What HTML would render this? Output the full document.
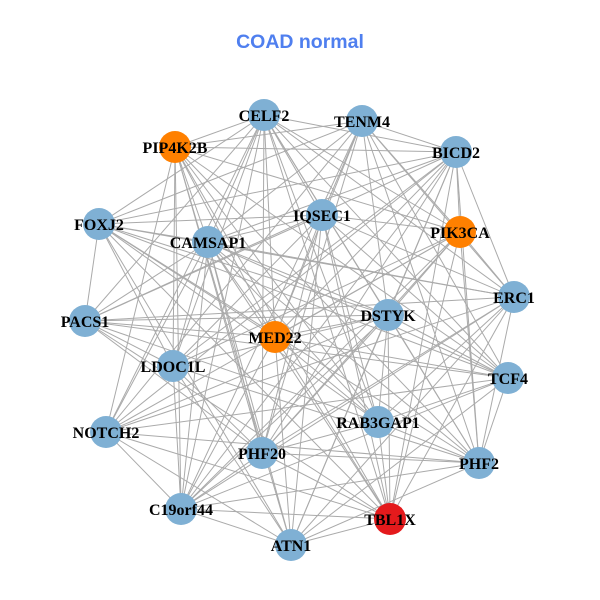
<!DOCTYPE html>
<html><head><meta charset="utf-8"><style>
html,body{margin:0;padding:0;background:#fff;}
svg{display:block;}
text{font-family:"Liberation Serif",serif;font-weight:bold;font-size:16px;fill:#000;}
</style></head><body>
<svg id="g" width="600" height="600" viewBox="0 0 600 600" xmlns="http://www.w3.org/2000/svg">
<rect width="600" height="600" fill="#fff"/>
<text x="300" y="48" text-anchor="middle" style="font-family:'Liberation Sans',sans-serif;font-size:19.5px;fill:#4f7fef;">COAD normal</text>
<g id="edges" stroke="#aaaaaa" stroke-width="1" fill="none"></g>
<g id="nodes">
<circle cx="264" cy="115" r="16" fill="#7fb0d4"/>
<circle cx="362" cy="121" r="16" fill="#7fb0d4"/>
<circle cx="175" cy="147" r="16" fill="#ff8000"/>
<circle cx="456" cy="152" r="16" fill="#7fb0d4"/>
<circle cx="322" cy="215" r="16" fill="#7fb0d4"/>
<circle cx="99" cy="224" r="16" fill="#7fb0d4"/>
<circle cx="208" cy="242" r="16" fill="#7fb0d4"/>
<circle cx="460" cy="232" r="16" fill="#ff8000"/>
<circle cx="514" cy="297" r="16" fill="#7fb0d4"/>
<circle cx="85" cy="321" r="16" fill="#7fb0d4"/>
<circle cx="388" cy="315" r="16" fill="#7fb0d4"/>
<circle cx="275" cy="337" r="16" fill="#ff8000"/>
<circle cx="173" cy="366" r="16" fill="#7fb0d4"/>
<circle cx="508" cy="378" r="16" fill="#7fb0d4"/>
<circle cx="106" cy="432" r="16" fill="#7fb0d4"/>
<circle cx="378" cy="422" r="16" fill="#7fb0d4"/>
<circle cx="262" cy="453" r="16" fill="#7fb0d4"/>
<circle cx="479" cy="463" r="16" fill="#7fb0d4"/>
<circle cx="181" cy="509" r="16" fill="#7fb0d4"/>
<circle cx="390" cy="519" r="16" fill="#e41a1c"/>
<circle cx="291" cy="545" r="16" fill="#7fb0d4"/>
</g>
<g text-anchor="middle">
<text x="264" y="121">CELF2</text>
<text x="362" y="127">TENM4</text>
<text x="175" y="153">PIP4K2B</text>
<text x="456" y="158">BICD2</text>
<text x="322" y="221">IQSEC1</text>
<text x="99" y="230">FOXJ2</text>
<text x="208" y="248">CAMSAP1</text>
<text x="460" y="238">PIK3CA</text>
<text x="514" y="303">ERC1</text>
<text x="85" y="327">PACS1</text>
<text x="388" y="321">DSTYK</text>
<text x="275" y="343">MED22</text>
<text x="173" y="372">LDOC1L</text>
<text x="508" y="384">TCF4</text>
<text x="106" y="438">NOTCH2</text>
<text x="378" y="428">RAB3GAP1</text>
<text x="262" y="459">PHF20</text>
<text x="479" y="469">PHF2</text>
<text x="181" y="515">C19orf44</text>
<text x="390" y="525">TBL1X</text>
<text x="291" y="551">ATN1</text>
</g>
</svg>
<script>
var P=[[264,115],[362,121],[175,147],[456,152],[322,215],[99,224],[208,242],[460,232],[514,297],[85,321],[388,315],[275,337],[173,366],[508,378],[106,432],[378,422],[262,453],[479,463],[181,509],[390,519],[291,545]];
var g=document.getElementById('edges'),s=7;
for(var i=0;i<P.length;i++)for(var j=i+1;j<P.length;j++){
 s=(s*1103515245+12345)%2147483648;
 if((s>>8)%10<8){
  var l=document.createElementNS('http://www.w3.org/2000/svg','line');
  l.setAttribute('x1',P[i][0]);l.setAttribute('y1',P[i][1]);
  l.setAttribute('x2',P[j][0]);l.setAttribute('y2',P[j][1]);
  g.appendChild(l);
 }
}
</script>
</body></html>
